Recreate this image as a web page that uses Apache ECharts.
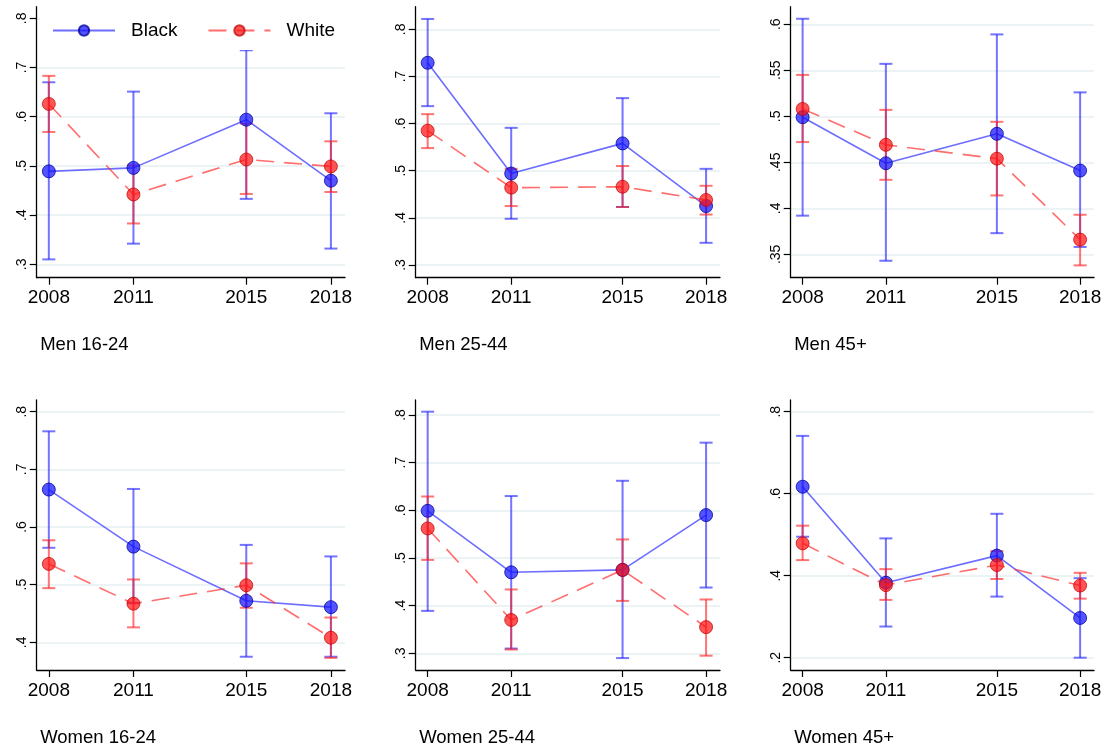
<!DOCTYPE html>
<html>
<head>
<meta charset="utf-8">
<script src="https://cdn.jsdelivr.net/npm/echarts@6/dist/echarts.min.js"></script>
<style>
  html, body { margin: 0; padding: 0; background: #fff; }
  #chart { width: 1107px; height: 750px; }
</style>
</head>
<body>
<div id="chart"></div>
<script>
// Survey years and panel labels
const years = [2008, 2011, 2015, 2018];
const panelTitles = ['Men 16-24', 'Men 25-44', 'Men 45+', 'Women 16-24', 'Women 25-44', 'Women 45+'];
const groupNames = ['Black', 'White'];

// Point estimates and 95% confidence bounds, one array per group and panel
const blackMen1624   = [0.489, 0.496, 0.594, 0.470];
const blackMen1624Lo = [0.310, 0.342, 0.433, 0.332];
const blackMen1624Hi = [0.670, 0.651, 0.735, 0.607];
const whiteMen1624   = [0.626, 0.442, 0.513, 0.499];
const whiteMen1624Lo = [0.569, 0.383, 0.443, 0.447];
const whiteMen1624Hi = [0.683, 0.501, 0.586, 0.550];

const blackMen2544   = [0.729, 0.494, 0.558, 0.425];
const blackMen2544Lo = [0.637, 0.398, 0.423, 0.347];
const blackMen2544Hi = [0.822, 0.591, 0.654, 0.504];
const whiteMen2544   = [0.585, 0.464, 0.466, 0.438];
const whiteMen2544Lo = [0.548, 0.425, 0.423, 0.407];
const whiteMen2544Hi = [0.620, 0.504, 0.510, 0.468];

const blackMen45   = [0.499, 0.449, 0.481, 0.441];
const blackMen45Lo = [0.392, 0.343, 0.373, 0.358];
const blackMen45Hi = [0.606, 0.557, 0.589, 0.526];
const whiteMen45   = [0.508, 0.469, 0.454, 0.366];
const whiteMen45Lo = [0.472, 0.431, 0.414, 0.338];
const whiteMen45Hi = [0.545, 0.507, 0.494, 0.393];

const blackWomen1624   = [0.665, 0.566, 0.472, 0.461];
const blackWomen1624Lo = [0.564, 0.468, 0.375, 0.375];
const blackWomen1624Hi = [0.766, 0.666, 0.569, 0.549];
const whiteWomen1624   = [0.536, 0.467, 0.499, 0.408];
const whiteWomen1624Lo = [0.494, 0.426, 0.460, 0.373];
const whiteWomen1624Hi = [0.577, 0.509, 0.537, 0.443];

const blackWomen2544   = [0.599, 0.470, 0.475, 0.590];
const blackWomen2544Lo = [0.389, 0.310, 0.290, 0.438];
const blackWomen2544Hi = [0.807, 0.630, 0.662, 0.742];
const whiteWomen2544   = [0.562, 0.370, 0.475, 0.355];
const whiteWomen2544Lo = [0.496, 0.308, 0.410, 0.295];
const whiteWomen2544Hi = [0.629, 0.434, 0.539, 0.413];

const blackWomen45   = [0.617, 0.383, 0.449, 0.297];
const blackWomen45Lo = [0.495, 0.276, 0.349, 0.200];
const blackWomen45Hi = [0.741, 0.491, 0.551, 0.394];
const whiteWomen45   = [0.479, 0.377, 0.426, 0.376];
const whiteWomen45Lo = [0.438, 0.341, 0.392, 0.344];
const whiteWomen45Hi = [0.522, 0.416, 0.460, 0.407];

// Y tick labels per panel
const yTicksMen1624   = [0.3, 0.4, 0.5, 0.6, 0.7, 0.8];
const yTicksMen2544   = [0.3, 0.4, 0.5, 0.6, 0.7, 0.8];
const yTicksMen45     = [0.35, 0.4, 0.45, 0.5, 0.55, 0.6];
const yTicksWomen1624 = [0.4, 0.5, 0.6, 0.7, 0.8];
const yTicksWomen2544 = [0.3, 0.4, 0.5, 0.6, 0.7, 0.8];
const yTicksWomen45   = [0.2, 0.4, 0.6, 0.8];

// ---- assembly ----
const panels = [
  { black: [blackMen1624, blackMen1624Lo, blackMen1624Hi], white: [whiteMen1624, whiteMen1624Lo, whiteMen1624Hi], ticks: yTicksMen1624, yMin: 0.2728, yMax: 0.8236 },
  { black: [blackMen2544, blackMen2544Lo, blackMen2544Hi], white: [whiteMen2544, whiteMen2544Lo, whiteMen2544Hi], ticks: yTicksMen2544, yMin: 0.273, yMax: 0.848 },
  { black: [blackMen45, blackMen45Lo, blackMen45Hi], white: [whiteMen45, whiteMen45Lo, whiteMen45Hi], ticks: yTicksMen45, yMin: 0.3246, yMax: 0.6191 },
  { black: [blackWomen1624, blackWomen1624Lo, blackWomen1624Hi], white: [whiteWomen1624, whiteWomen1624Lo, whiteWomen1624Hi], ticks: yTicksWomen1624, yMin: 0.352, yMax: 0.8203 },
  { black: [blackWomen2544, blackWomen2544Lo, blackWomen2544Hi], white: [whiteWomen2544, whiteWomen2544Lo, whiteWomen2544Hi], ticks: yTicksWomen2544, yMin: 0.265, yMax: 0.8315 },
  { black: [blackWomen45, blackWomen45Lo, blackWomen45Hi], white: [whiteWomen45, whiteWomen45Lo, whiteWomen45Hi], ticks: yTicksWomen45, yMin: 0.170, yMax: 0.8285 }
];

const FONT = '"Liberation Sans", Arial, Helvetica, sans-serif';
const colLeft = [36.7, 415.7, 790.7];
const colRight = [345, 720, 1094];
const rowTop = [6.7, 400];
const rowBottom = [277.7, 670];
const titleY = [345, 738];

const style = {
  Black: {
    line: 'rgba(40,40,255,0.68)', ci: 'rgba(30,30,255,0.62)',
    fill: 'rgba(20,20,255,0.72)', border: 'rgba(0,0,150,0.75)', dash: 'solid'
  },
  White: {
    line: 'rgba(255,40,40,0.68)', ci: 'rgba(255,30,30,0.62)',
    fill: 'rgba(255,20,20,0.72)', border: 'rgba(190,0,0,0.7)', dash: [18, 10]
  }
};

const fmt = v => String(+Number(v).toFixed(2)).replace(/^0/, '');

const grids = [], xAxes = [], yAxes = [], series = [], graphics = [];

panels.forEach((p, i) => {
  const col = i % 3, row = Math.floor(i / 3);
  grids.push({
    left: colLeft[col], top: rowTop[row],
    width: colRight[col] - colLeft[col], height: rowBottom[row] - rowTop[row]
  });
  xAxes.push({
    type: 'value', gridIndex: i, min: 2007.57, max: 2018.5,
    axisLine: { show: true, lineStyle: { color: '#000', width: 1.3 } },
    axisTick: { show: true, length: 7, customValues: years, lineStyle: { color: '#000', width: 1.2 } },
    axisLabel: { customValues: years, formatter: v => String(v), fontSize: 19, color: '#000', fontFamily: FONT, margin: 11 },
    splitLine: { show: false }
  });
  yAxes.push({
    type: 'value', gridIndex: i, min: p.yMin, max: p.yMax,
    axisLine: { show: true, lineStyle: { color: '#000', width: 1.3 } },
    axisTick: { show: true, length: 7, customValues: p.ticks, lineStyle: { color: '#000', width: 1.2 } },
    axisLabel: { customValues: p.ticks, formatter: fmt, rotate: 90, fontSize: 14, color: '#000', fontFamily: FONT, margin: 8 },
    splitLine: { show: true, lineStyle: { color: '#e6eff1', width: 1.6 } }
  });

  groupNames.forEach((name, g) => {
    const s = style[name];
    const [mean, lo, hi] = g === 0 ? p.black : p.white;
    // confidence interval caps
    series.push({
      type: 'custom', name: name + ' 95% CI', xAxisIndex: i, yAxisIndex: i, z: 1, silent: true,
      data: years.map((yr, k) => [yr, lo[k], hi[k]]),
      encode: { x: 0, y: [1, 2] },
      renderItem: (params, api) => {
        const x = api.value(0);
        const a = api.coord([x, api.value(1)]);
        const b = api.coord([x, api.value(2)]);
        const half = 6.5;
        const ls = { stroke: s.ci, lineWidth: 2 };
        return {
          type: 'group',
          children: [
            { type: 'line', shape: { x1: a[0], y1: a[1], x2: b[0], y2: b[1] }, style: ls },
            { type: 'line', shape: { x1: a[0] - half, y1: a[1], x2: a[0] + half, y2: a[1] }, style: ls },
            { type: 'line', shape: { x1: b[0] - half, y1: b[1], x2: b[0] + half, y2: b[1] }, style: ls }
          ]
        };
      }
    });
    // connected point estimates
    series.push({
      type: 'line', name: name, xAxisIndex: i, yAxisIndex: i, z: 2 + g,
      data: years.map((yr, k) => [yr, mean[k]]),
      symbol: 'circle', symbolSize: 13, showSymbol: true,
      color: s.fill,
      lineStyle: { color: s.line, width: 1.6, type: s.dash },
      itemStyle: { color: s.fill, borderColor: s.border, borderWidth: 1 },
      emphasis: { disabled: true },
      animation: false
    });
  });

  graphics.push({
    type: 'text', left: colLeft[col] + 3.5, top: titleY[row] - 10,
    style: { text: panelTitles[i], font: '18.5px ' + FONT, fill: '#000' }
  });
});

const chart = echarts.init(document.getElementById('chart'), null, { renderer: 'canvas' });
chart.setOption({
  animation: false,
  backgroundColor: '#fff',
  grid: grids,
  xAxis: xAxes,
  yAxis: yAxes,
  series: series,
  graphic: graphics,
  legend: {
    data: groupNames,
    left: 40, top: 18,
    orient: 'horizontal',
    backgroundColor: '#fff',
    padding: [3, 12, 10, 12],
    itemWidth: 62, itemHeight: 13, itemGap: 30,
    textStyle: { fontSize: 19, color: '#000', fontFamily: FONT, lineHeight: 19, padding: [0, 0, 0, 11] },
    selectedMode: false,
    z: 10
  }
});
</script>
</body>
</html>
